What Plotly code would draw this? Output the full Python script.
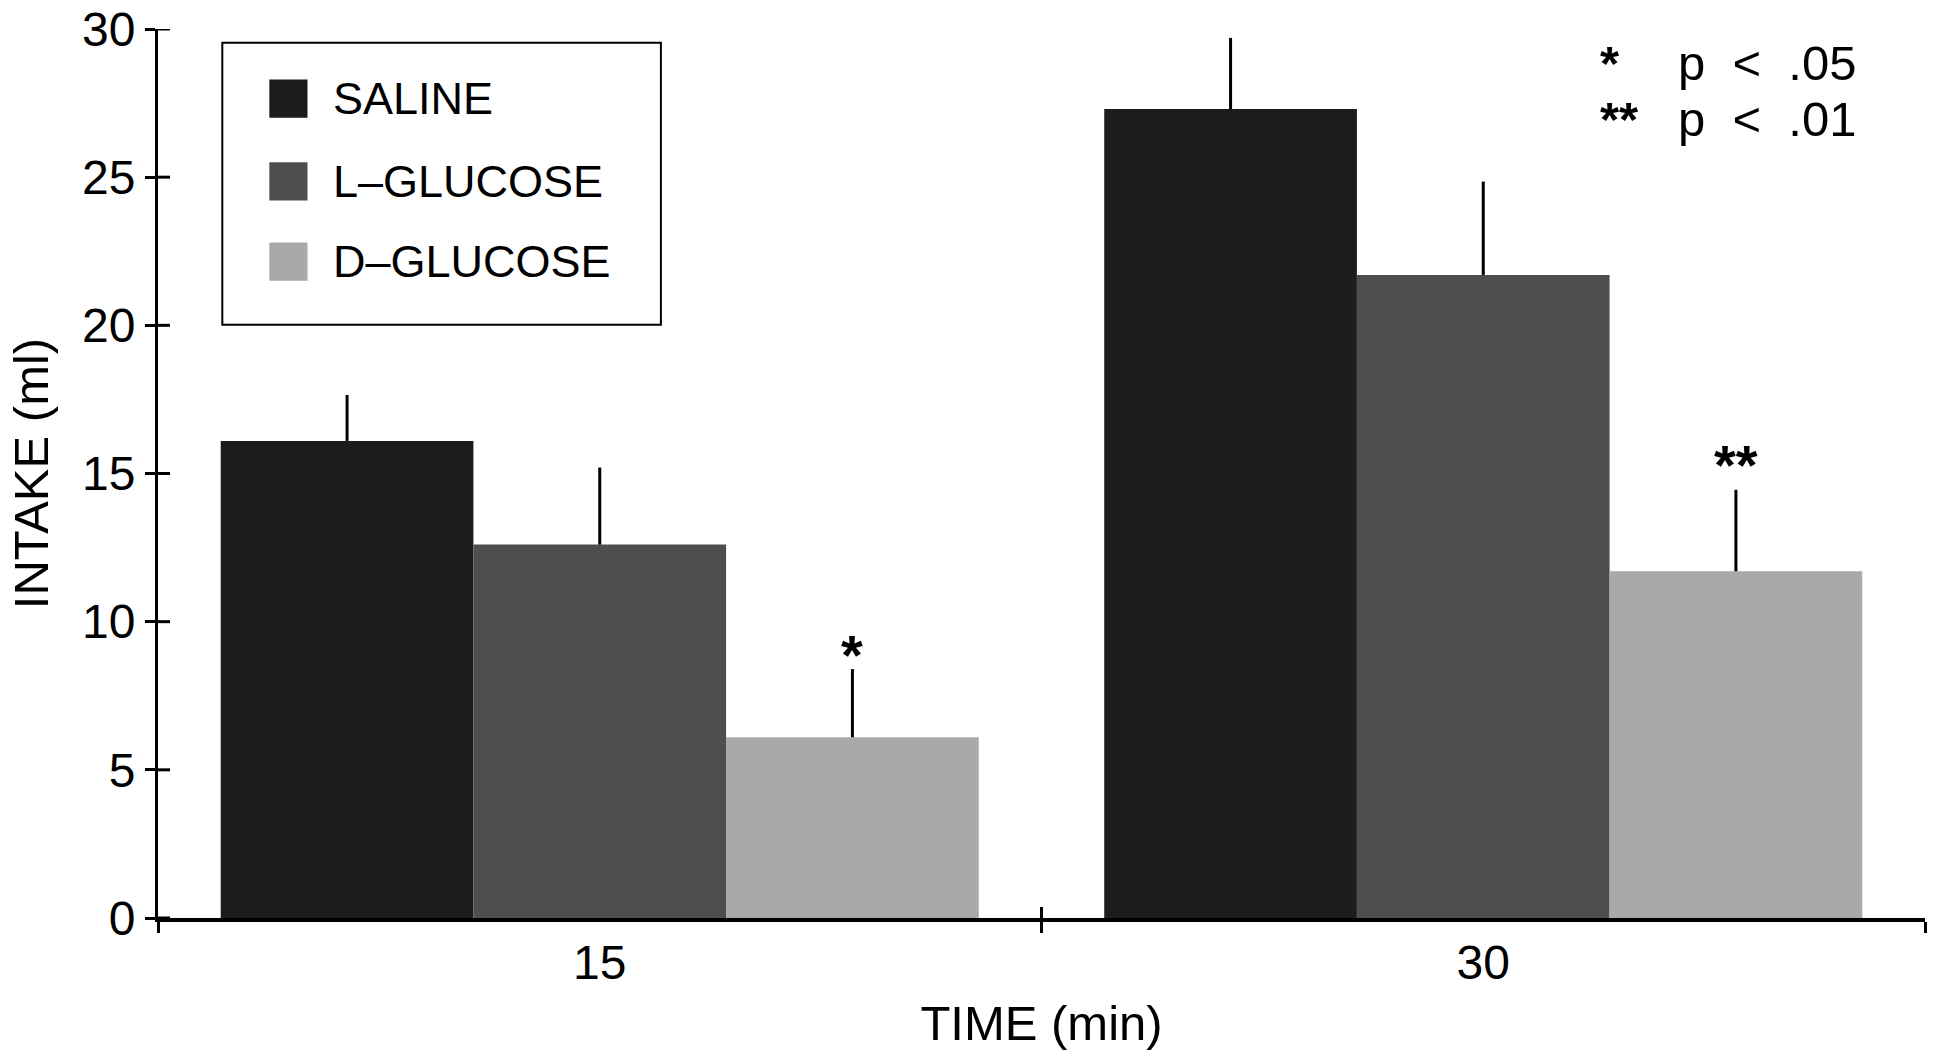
import plotly.graph_objects as go

# ---- data ----
categories = ["15", "30"]
series_names = ["SALINE", "L–GLUCOSE", "D–GLUCOSE"]
saline = [16.1, 27.3]
l_glucose = [12.6, 21.7]
d_glucose = [6.1, 11.7]
saline_err = [1.55, 2.4]
l_glucose_err = [2.6, 3.15]
d_glucose_err = [2.3, 2.75]
d_glucose_sig = ["*", "**"]
d_glucose_sig_y = [9.1, 15.5]
y_tick_values = [0, 5, 10, 15, 20, 25, 30]
sig_symbols = ["*", "**"]
sig_labels = ["p&nbsp; <&nbsp; .05", "p&nbsp; <&nbsp; .01"]

colors = ["#1c1c1c", "#4e4e4e", "#a9a9a9"]
FONT = "Liberation Sans"
TICK_FS = 48
TITLE_FS = 49
LEG_FS = 45
KEY_FS = 49

values = [saline, l_glucose, d_glucose]
errors = [saline_err, l_glucose_err, d_glucose_err]

fig = go.Figure()
for name, vals, errs, col in zip(series_names, values, errors, colors):
    fig.add_trace(go.Bar(
        x=categories, y=vals, name=name,
        marker=dict(color=col, line=dict(width=0)),
        error_y=dict(type="data", symmetric=False, array=errs,
                     arrayminus=[0] * len(errs), width=0,
                     thickness=3, color="black"),
        showlegend=False,
    ))

# empty helper trace so the overlay x axis (inner half of crossing ticks) exists
fig.add_trace(go.Scatter(x=[], y=[], xaxis="x2", yaxis="y", showlegend=False, hoverinfo="skip"))

# inner half of the crossing y ticks
for v in y_tick_values:
    fig.add_shape(type="line", xref="paper", yref="y", xsizemode="pixel", xanchor=0,
                  x0=0, x1=12, y0=v, y1=v, line=dict(color="black", width=3), layer="above")

# significance asterisks above D-GLUCOSE bars
n = len(series_names)
bargap = 0.142
bw = (1 - bargap) / n
for i, (s, sy) in enumerate(zip(d_glucose_sig, d_glucose_sig_y)):
    fig.add_annotation(
        x=i + bw, y=sy, xref="x", yref="y",
        text="<b>" + s + "</b>", showarrow=False, yanchor="middle", yshift=-6,
        font=dict(family=FONT, size=56, color="black"))

# custom legend box
lx0, lx1, ly0, ly1 = 0.0364, 0.2846, 0.6674, 0.9844
fig.add_shape(type="rect", xref="paper", yref="paper", x0=lx0, x1=lx1, y0=ly0, y1=ly1,
              line=dict(color="black", width=2), fillcolor="white", layer="above")
row_y = [0.9218, 0.8286, 0.7383]
for name, col, ry in zip(series_names, colors, row_y):
    fig.add_shape(type="rect", xref="paper", yref="paper", x0=0.0630, x1=0.0846,
                  y0=ry - 0.0215, y1=ry + 0.0215, line=dict(width=0), fillcolor=col,
                  layer="above")
    fig.add_annotation(xref="paper", yref="paper", x=0.0979, y=ry, text=name,
                       showarrow=False, xanchor="left", yanchor="middle",
                       font=dict(family=FONT, size=LEG_FS, color="black"))

# p-value key
key_y = [0.9621, 0.8991]
for sym, lab, ky in zip(sig_symbols, sig_labels, key_y):
    fig.add_annotation(xref="paper", yref="paper", x=0.8147, y=ky, text="<b>" + sym + "</b>",
                       showarrow=False, xanchor="left", yanchor="middle",
                       font=dict(family=FONT, size=KEY_FS, color="black"))
    fig.add_annotation(xref="paper", yref="paper", x=0.8589, y=ky, text=lab,
                       showarrow=False, xanchor="left", yanchor="middle",
                       font=dict(family=FONT, size=KEY_FS, color="black"))

fig.update_layout(
    width=1937, height=1059,
    margin=dict(l=158, r=12, t=29, b=141),
    paper_bgcolor="white", plot_bgcolor="white",
    barmode="group", bargap=bargap, bargroupgap=0,
    font=dict(family=FONT, size=TICK_FS, color="black"),
    xaxis=dict(
        type="category", range=[-0.5, 1.5], tickson="boundaries",
        ticks="outside", ticklen=11, tickwidth=3, tickcolor="black",
        showline=True, linewidth=3.5, linecolor="black", showgrid=False,
        zeroline=False, tickfont=dict(family=FONT, size=TICK_FS), automargin=False,
        title=dict(text="TIME (min)", font=dict(family=FONT, size=TITLE_FS), standoff=18),
    ),
    xaxis2=dict(
        overlaying="x", anchor="y", range=[-0.5, 1.5], tickvals=[-0.5, 0.5, 1.5],
        ticks="inside", ticklen=11, tickwidth=3, tickcolor="black",
        showticklabels=False, showline=False, showgrid=False, zeroline=False,
        automargin=False, side="bottom",
    ),
    yaxis=dict(
        range=[0, 30], tickvals=y_tick_values, ticks="outside", ticklen=10,
        tickwidth=3, tickcolor="black", showline=True, linewidth=3,
        linecolor="black", showgrid=False, zeroline=False, automargin=False,
        tickfont=dict(family=FONT, size=TICK_FS),
        title=dict(text="INTAKE (ml)", font=dict(family=FONT, size=TITLE_FS), standoff=18),
    ),
)

fig.write_html("out.html")
